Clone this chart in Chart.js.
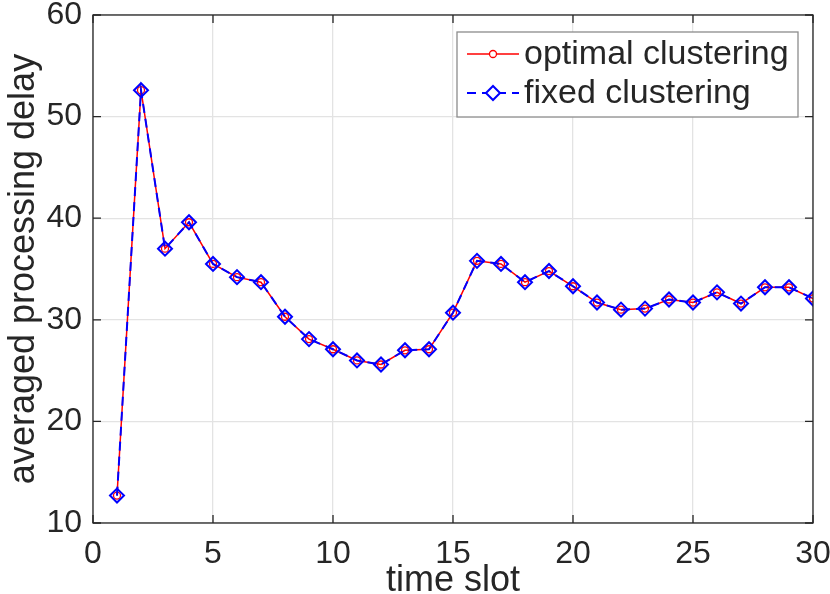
<!DOCTYPE html>
<html>
<head>
<meta charset="utf-8">
<script src="https://cdn.jsdelivr.net/npm/chart.js@4.4.1/dist/chart.umd.min.js"></script>
<style>
  html, body { margin: 0; padding: 0; background: #fff; }
  #wrap { width: 830px; height: 594px; position: relative; }
</style>
</head>
<body>
<div id="wrap"><canvas id="delayChart"></canvas></div>
<script>
'use strict';

// --- data ---
const TIME_SLOTS = [1, 2, 3, 4, 5, 6, 7, 8, 9, 10, 11, 12, 13, 14, 15,
                    16, 17, 18, 19, 20, 21, 22, 23, 24, 25, 26, 27, 28, 29, 30];
const OPTIMAL = [12.7, 52.6, 37.0, 39.6, 35.5, 34.2, 33.7, 30.3, 28.1, 27.1,
                 26.0, 25.6, 27.0, 27.1, 30.7, 35.8, 35.5, 33.7, 34.8, 33.3,
                 31.7, 31.0, 31.1, 32.0, 31.7, 32.7, 31.6, 33.2, 33.2, 32.1];
const FIXED = [12.7, 52.6, 37.0, 39.6, 35.5, 34.2, 33.7, 30.3, 28.1, 27.1,
               26.0, 25.6, 27.0, 27.1, 30.7, 35.8, 35.5, 33.7, 34.8, 33.3,
               31.7, 31.0, 31.1, 32.0, 31.7, 32.7, 31.6, 33.2, 33.2, 32.1];
const SERIES_NAMES = ['optimal clustering', 'fixed clustering'];
const X_TICKS = [0, 5, 10, 15, 20, 25, 30];
const Y_TICKS = [10, 20, 30, 40, 50, 60];

const FONT = 'Liberation Sans, Arial, Helvetica, sans-serif';
const INK = '#262626';
const RED = '#ff0000';
const BLUE = '#0000ff';

const toXY = (xs, ys) => xs.map((x, i) => ({ x: x, y: ys[i] }));

// matlab-style box + inward ticks
const boxPlugin = {
  id: 'box',
  afterDatasetsDraw(chart) {
    const { ctx, chartArea: a, scales } = chart;
    ctx.save();
    ctx.strokeStyle = INK;
    ctx.lineWidth = 1.3;
    ctx.strokeRect(a.left, a.top, a.right - a.left, a.bottom - a.top);
    ctx.beginPath();
    const len = 8;
    X_TICKS.forEach(v => {
      const px = scales.x.getPixelForValue(v);
      ctx.moveTo(px, a.bottom); ctx.lineTo(px, a.bottom - len);
      ctx.moveTo(px, a.top); ctx.lineTo(px, a.top + len);
    });
    Y_TICKS.forEach(v => {
      const py = scales.y.getPixelForValue(v);
      ctx.moveTo(a.left, py); ctx.lineTo(a.left + len, py);
      ctx.moveTo(a.right, py); ctx.lineTo(a.right - len, py);
    });
    ctx.stroke();
    ctx.restore();
  },
};

// legend box in the upper right corner
const legendPlugin = {
  id: 'boxLegend',
  afterDraw(chart) {
    const { ctx } = chart;
    const bx = 457, by = 32, bw = 341, bh = 85;
    ctx.save();
    ctx.fillStyle = '#fff';
    ctx.fillRect(bx, by, bw, bh);
    ctx.strokeStyle = '#8c8c8c';
    ctx.lineWidth = 1.3;
    ctx.strokeRect(bx, by, bw, bh);

    const rows = [54, 93];
    chart.data.datasets.forEach((ds, i) => {
      const y = rows[i];
      ctx.strokeStyle = ds.borderColor;
      ctx.lineWidth = ds.borderWidth;
      ctx.setLineDash(ds.borderDash || []);
      ctx.beginPath();
      ctx.moveTo(467, y); ctx.lineTo(519, y);
      ctx.stroke();
      ctx.setLineDash([]);
      ctx.fillStyle = '#fff';
      ctx.strokeStyle = ds.pointBorderColor;
      ctx.lineWidth = ds.pointBorderWidth;
      Chart.helpers.drawPoint(ctx, {
        pointStyle: ds.pointStyle, radius: ds.pointRadius, borderWidth: ds.pointBorderWidth,
      }, 493, y);
      ctx.fillStyle = INK;
      ctx.font = '34px ' + FONT;
      ctx.textBaseline = 'middle';
      ctx.fillText(ds.label, 524, y + 1);
    });
    ctx.restore();
  },
};

const canvas = document.getElementById('delayChart');
new Chart(canvas.getContext('2d'), {
  type: 'scatter',
  data: {
    datasets: [
      {
        label: SERIES_NAMES[0],
        data: toXY(TIME_SLOTS, OPTIMAL),
        showLine: true,
        borderColor: RED,
        borderWidth: 1.5,
        pointStyle: 'circle',
        pointRadius: 3.5,
        pointBorderWidth: 1.3,
        pointBorderColor: RED,
        pointBackgroundColor: 'rgba(0,0,0,0)',
        order: 1,
      },
      {
        label: SERIES_NAMES[1],
        data: toXY(TIME_SLOTS, FIXED),
        showLine: true,
        borderColor: BLUE,
        borderWidth: 2,
        borderDash: [9, 6],
        pointStyle: 'rectRot',
        pointRadius: 7,
        pointBorderWidth: 2,
        pointBorderColor: BLUE,
        pointBackgroundColor: 'rgba(0,0,0,0)',
        order: 0,
      },
    ],
  },
  options: {
    responsive: true,
    maintainAspectRatio: false,
    animation: false,
    layout: { padding: { top: 15, right: 17, left: 0, bottom: 0 } },
    plugins: {
      legend: { display: false },
      tooltip: { enabled: false },
    },
    scales: {
      x: {
        type: 'linear',
        min: 0,
        max: 30,
        afterBuildTicks: s => { s.ticks = X_TICKS.map(v => ({ value: v })); },
        afterFit: s => { s.height = 71; s.paddingLeft = 0; s.paddingRight = 0; },
        grid: { color: '#e3e3e3', lineWidth: 1.3, drawTicks: false },
        border: { display: false },
        ticks: { color: INK, padding: 12, maxRotation: 0, font: { family: FONT, size: 32 } },
        title: {
          display: true,
          text: 'time slot',
          color: INK,
          font: { family: FONT, size: 36 },
          padding: { top: 0, bottom: -9 },
        },
      },
      y: {
        min: 10,
        max: 60,
        afterBuildTicks: s => { s.ticks = Y_TICKS.map(v => ({ value: v })); },
        afterFit: s => { s.width = 93; s.paddingTop = 0; s.paddingBottom = 0; },
        grid: { color: '#e3e3e3', lineWidth: 1.3, drawTicks: false },
        border: { display: false },
        ticks: { color: INK, padding: 11, font: { family: FONT, size: 32 } },
        title: {
          display: true,
          text: 'averaged processing delay',
          color: INK,
          font: { family: FONT, size: 36 },
          padding: { top: 2, bottom: 0 },
        },
      },
    },
  },
  plugins: [boxPlugin, legendPlugin],
});
</script>
</body>
</html>
